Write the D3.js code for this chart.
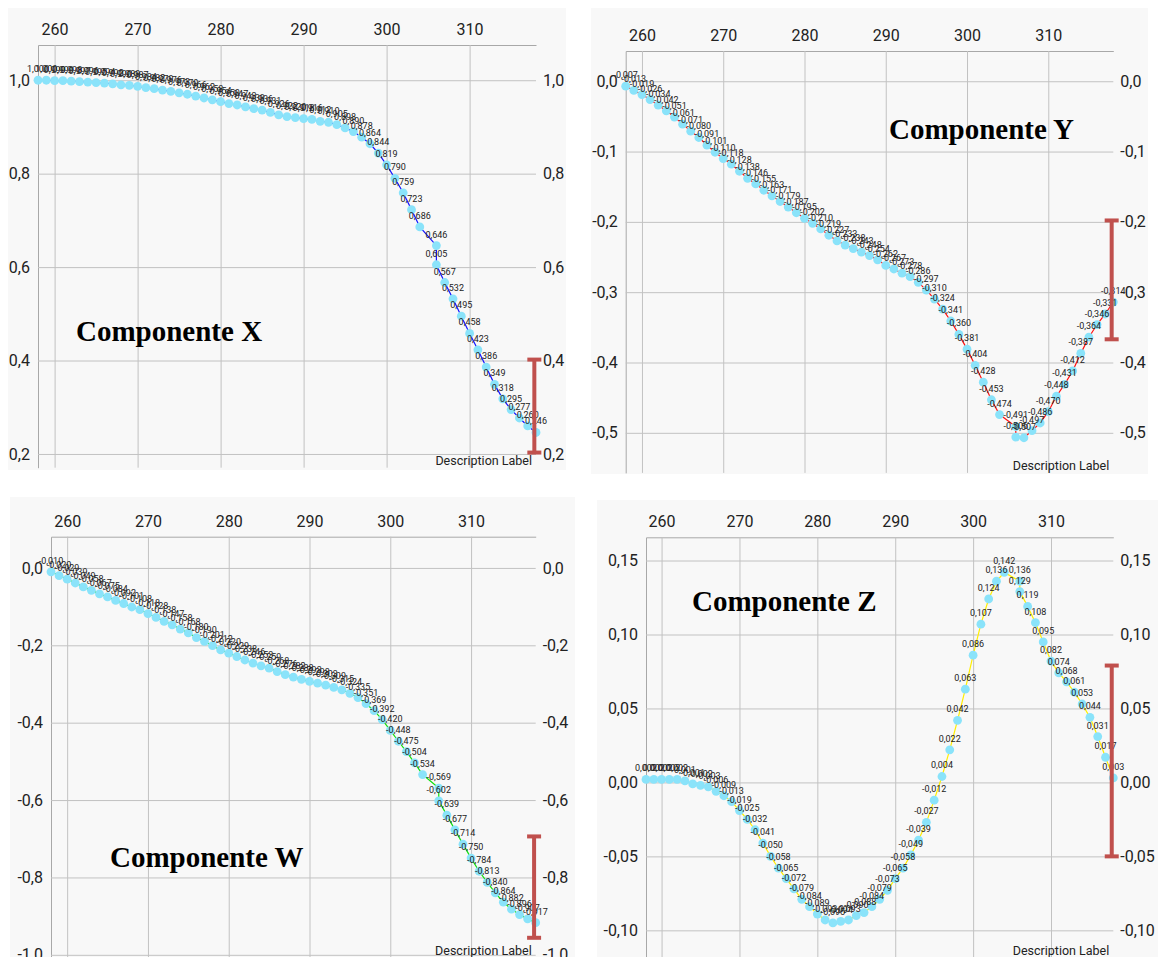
<!DOCTYPE html>
<html><head><meta charset="utf-8">
<script src="https://cdn.jsdelivr.net/npm/d3@7"></script>
<style>html,body{margin:0;padding:0;background:#fff;} svg{display:block;}</style>
</head><body>
<svg id="chart" width="1158" height="957"></svg>
<script>
// ---------- DATA ----------
const timeStamps = [258,259,260,261,262,263,264,265,266,267,268,269,270,271,272,273,274,275,276,277,278,279,280,281,282,283,284,285,286,287,288,289,290,291,292,293,294,295,296,297,298,299,300,301,302,303,304,306,306,307,308,309,310,311,312,313,314,315,316,317,318];

const compX = [1.000,1.000,0.999,0.999,0.998,0.997,0.996,0.995,0.994,0.992,0.990,0.989,0.987,0.984,0.982,0.979,0.976,0.973,0.970,0.966,0.962,0.958,0.954,0.950,0.947,0.943,0.939,0.936,0.931,0.926,0.922,0.920,0.918,0.916,0.912,0.910,0.905,0.898,0.890,0.878,0.864,0.844,0.819,0.790,0.759,0.723,0.686,0.646,0.605,0.567,0.532,0.495,0.458,0.423,0.386,0.349,0.318,0.295,0.277,0.260,0.246];

const compY = [-0.007,-0.013,-0.019,-0.026,-0.034,-0.042,-0.051,-0.061,-0.071,-0.080,-0.091,-0.101,-0.110,-0.118,-0.128,-0.138,-0.146,-0.155,-0.163,-0.171,-0.179,-0.187,-0.195,-0.202,-0.210,-0.219,-0.227,-0.233,-0.238,-0.243,-0.248,-0.254,-0.262,-0.267,-0.273,-0.278,-0.286,-0.297,-0.310,-0.324,-0.341,-0.360,-0.381,-0.404,-0.428,-0.453,-0.474,-0.491,-0.506,-0.507,-0.497,-0.486,-0.470,-0.448,-0.431,-0.412,-0.387,-0.364,-0.346,-0.331,-0.314];

const compW = [-0.010,-0.020,-0.029,-0.039,-0.049,-0.058,-0.067,-0.075,-0.084,-0.092,-0.101,-0.108,-0.118,-0.128,-0.138,-0.147,-0.158,-0.168,-0.180,-0.190,-0.201,-0.212,-0.220,-0.229,-0.238,-0.246,-0.253,-0.259,-0.268,-0.276,-0.282,-0.288,-0.293,-0.298,-0.303,-0.309,-0.315,-0.324,-0.335,-0.351,-0.369,-0.392,-0.420,-0.448,-0.475,-0.504,-0.534,-0.569,-0.602,-0.639,-0.677,-0.714,-0.750,-0.784,-0.813,-0.840,-0.864,-0.882,-0.896,-0.907,-0.917];

const compZ = [0.002,0.002,0.002,0.002,0.002,0.001,-0.001,-0.002,-0.003,-0.006,-0.009,-0.013,-0.019,-0.025,-0.032,-0.041,-0.050,-0.058,-0.065,-0.072,-0.079,-0.084,-0.089,-0.093,-0.095,-0.094,-0.093,-0.090,-0.088,-0.084,-0.079,-0.073,-0.065,-0.058,-0.049,-0.039,-0.027,-0.012,0.004,0.022,0.042,0.063,0.086,0.107,0.124,0.136,0.142,0.136,0.129,0.119,0.108,0.095,0.082,0.074,0.068,0.061,0.053,0.044,0.031,0.017,0.003];

const xTickLabels = [260,270,280,290,300,310];
const yTicksX = [0.2,0.4,0.6,0.8,1.0];
const yTicksY = [-0.5,-0.4,-0.3,-0.2,-0.1,0.0];
const yTicksW = [-1.0,-0.8,-0.6,-0.4,-0.2,0.0];
const yTicksZ = [-0.10,-0.05,0.00,0.05,0.10,0.15];

// range bars: [x, low, high] in data units
const barX = [317.8, 0.203, 0.402];
const barY = [317.8, -0.367, -0.198];
const barW = [317.8, -0.956, -0.694];
const barZ = [317.8, -0.050, 0.079];

const titles = ["Componente X","Componente Y","Componente W","Componente Z"];
const descriptionText = "Description Label";

// ---------- LAYOUT ----------
const panels = [
  {title:titles[0], values:compX, ticks:yTicksX, fmt:".1f", color:"#1414ff", bg:[8,8,558,462],   plot:{l:38,   t:45,    r:536,    b:467.7}, tpos:[76,341],  bar:barX},
  {title:titles[1], values:compY, ticks:yTicksY, fmt:".1f", color:"#ff1010", bg:[591,8,557,466], plot:{l:625.7,t:51,    r:1113.3, b:472.9}, tpos:[889,139], bar:barY},
  {title:titles[2], values:compW, ticks:yTicksW, fmt:".1f", color:"#10e010", bg:[10,497,565,460], plot:{l:51,   t:536.7, r:535.7,  b:957.8}, tpos:[110,867], bar:barW},
  {title:titles[3], values:compZ, ticks:yTicksZ, fmt:".2f", color:"#ffee00", bg:[597,500,561,457], plot:{l:646,  t:537.3, r:1113.3, b:958},   tpos:[692,611], bar:barZ}
];

const loc = d3.formatLocale({decimal:",", thousands:".", grouping:[3], currency:["",""], minus:"-"});
const valFmt = loc.format(".3f");

const svg = d3.select("#chart");
svg.append("rect").attr("width",1158).attr("height",957).attr("fill","#fff");

panels.forEach((p,i)=>{
  const cid = "clip"+i;
  svg.append("clipPath").attr("id",cid).append("rect")
    .attr("x",p.bg[0]).attr("y",p.bg[1]).attr("width",p.bg[2]).attr("height",p.bg[3]);
  const g = svg.append("g").attr("clip-path",`url(#${cid})`);
  g.append("rect").attr("x",p.bg[0]).attr("y",p.bg[1]).attr("width",p.bg[2]).attr("height",p.bg[3]).attr("fill","#f8f8f8");

  const x = d3.scaleLinear().domain(d3.extent(timeStamps)).range([p.plot.l,p.plot.r]);
  const ext = d3.extent(p.values);
  const pad = (ext[1]-ext[0])*0.1;
  const y = d3.scaleLinear().domain([ext[0]-pad, ext[1]+pad]).range([p.plot.b,p.plot.t]);
  const W = p.plot.r-p.plot.l, H = p.plot.b-p.plot.t;
  const tf = loc.format(p.fmt);

  const axT = g.append("g").attr("transform",`translate(0,${p.plot.t})`)
    .call(d3.axisTop(x).tickValues(xTickLabels).tickSize(-H).tickSizeOuter(0).tickPadding(10).tickFormat(d3.format("d")));
  const axL = g.append("g").attr("transform",`translate(${p.plot.l},0)`)
    .call(d3.axisLeft(y).tickValues(p.ticks).tickSize(-W).tickSizeOuter(0).tickPadding(8).tickFormat(tf));
  const axR = g.append("g").attr("transform",`translate(${p.plot.r},0)`)
    .call(d3.axisRight(y).tickValues(p.ticks).tickSize(0).tickPadding(7).tickFormat(tf));
  axR.select(".domain").remove();
  [axT,axL,axR].forEach(a=>{
    a.selectAll(".tick line").attr("stroke","#c2c2c2").attr("stroke-width",1);
    a.select(".domain").attr("stroke","#a8a8a8").attr("stroke-width",1);
    a.selectAll("text").attr("font-family","Roboto, 'Noto Sans', sans-serif").attr("font-size",16).attr("fill","#222");
  });

  const line = d3.line().x((d,j)=>x(timeStamps[j])).y(d=>y(d));
  g.append("path").datum(p.values).attr("d",line).attr("fill","none").attr("stroke",p.color).attr("stroke-width",1.2);

  g.append("g").selectAll("circle").data(p.values).join("circle")
    .attr("cx",(d,j)=>x(timeStamps[j])).attr("cy",d=>y(d)).attr("r",4.4).attr("fill","#8ae3fa");

  g.append("g").selectAll("text").data(p.values).join("text")
    .attr("x",(d,j)=>x(timeStamps[j])).attr("y",d=>y(d)-8)
    .attr("text-anchor","middle").attr("font-family","Roboto, 'Noto Sans', sans-serif")
    .attr("font-size",9).attr("fill","#222").text(d=>valFmt(d));

  g.append("text").attr("x",p.plot.r-4).attr("y",p.plot.b-3).attr("text-anchor","end")
    .attr("font-family","Roboto, 'Noto Sans', sans-serif").attr("font-size",12.5).attr("fill","#222").text(descriptionText);

  g.append("text").attr("x",p.tpos[0]).attr("y",p.tpos[1])
    .attr("font-family","'Liberation Serif','Times New Roman',serif").attr("font-weight","bold")
    .attr("font-size",29).attr("fill","#000").text(p.title);

  // range bar
  const bx = x(p.bar[0]), by1 = y(p.bar[1]), by2 = y(p.bar[2]);
  const bg2 = g.append("g").attr("stroke","#c0504d").attr("stroke-width",4);
  bg2.append("line").attr("x1",bx).attr("x2",bx).attr("y1",by1).attr("y2",by2);
  bg2.append("line").attr("x1",bx-7).attr("x2",bx+7).attr("y1",by1).attr("y2",by1);
  bg2.append("line").attr("x1",bx-7).attr("x2",bx+7).attr("y1",by2).attr("y2",by2);
});
</script>
</body></html>
